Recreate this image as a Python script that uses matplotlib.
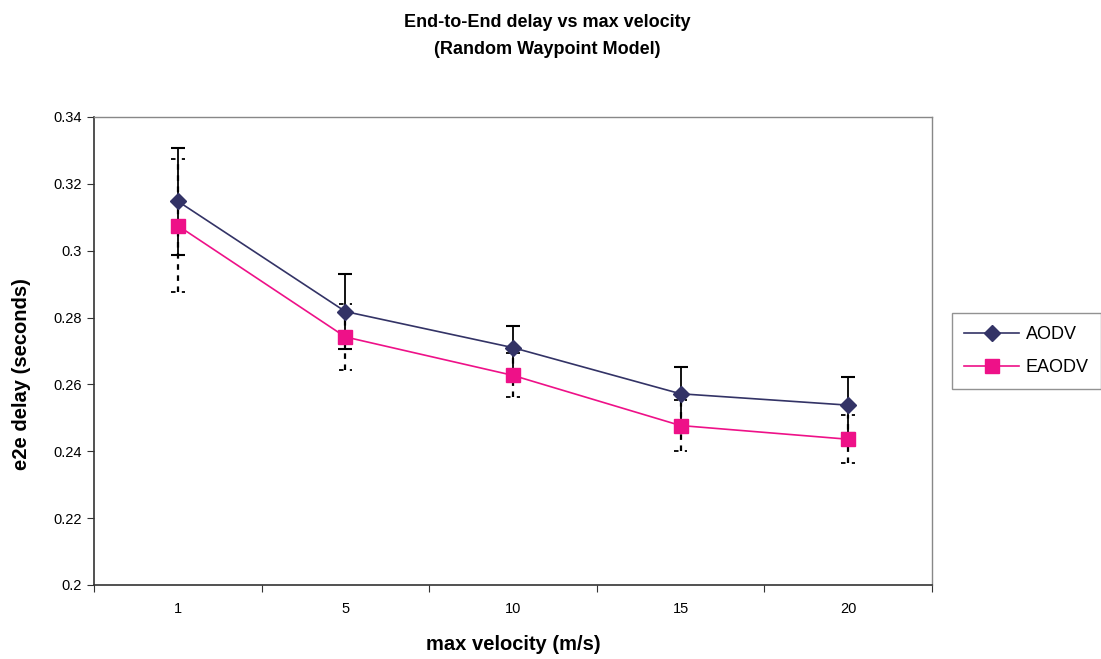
import matplotlib
matplotlib.use('Agg')
import matplotlib.pyplot as plt
import numpy as np

plt.rcParams['font.family'] = ['Liberation Sans', 'DejaVu Sans']

velocity = ['1', '5', '10', '15', '20']
aodv = [0.3148, 0.2818, 0.2710, 0.2572, 0.2538]
aodv_err = [0.0160, 0.0112, 0.0066, 0.0081, 0.0083]
eaodv = [0.3075, 0.2742, 0.2627, 0.2477, 0.2436]
eaodv_err = [0.0199, 0.0099, 0.0066, 0.0075, 0.0072]

x = np.arange(len(velocity))

fig = plt.figure(figsize=(11.01, 6.59), dpi=100)
ax = fig.add_axes([0.0854, 0.1123, 0.761, 0.7102])

# EAODV error bars: dashed, with dashed caps
eb = ax.errorbar(x, eaodv, yerr=eaodv_err, fmt='none', ecolor='black',
                 elinewidth=1.6, capsize=0, zorder=2)
eb[2][0].set_linestyle((0, (2.5, 2.5)))
lo = np.array(eaodv) - np.array(eaodv_err)
hi = np.array(eaodv) + np.array(eaodv_err)
ax.hlines(np.concatenate([lo, hi]), np.concatenate([x, x]) - 0.04,
          np.concatenate([x, x]) + 0.04, colors='black', linewidth=1.3,
          linestyles=(0, (2.5, 3.5)), zorder=2)

# AODV error bars: solid with caps
ax.errorbar(x, aodv, yerr=aodv_err, fmt='none', ecolor='black',
            elinewidth=1.3, capsize=5, capthick=1.5, zorder=3)

ax.plot(x, aodv, color='#333366', linewidth=1.2, marker='D', markersize=8,
        markerfacecolor='#333366', markeredgecolor='#333366', label='AODV', zorder=4)
ax.plot(x, eaodv, color='#EE1188', linewidth=1.2, marker='s', markersize=10,
        markerfacecolor='#EE1188', markeredgecolor='#EE1188', label='EAODV', zorder=4)

ax.set_xlim(-0.5, len(velocity) - 0.5)
ax.set_ylim(0.2, 0.34)
ax.set_yticks(np.arange(0.2, 0.3401, 0.02))
ax.set_yticklabels(['0.2', '0.22', '0.24', '0.26', '0.28', '0.3', '0.32', '0.34'])

# ticks between categories, labels at category centres
ax.set_xticks(np.arange(-0.5, len(velocity), 1.0))
ax.set_xticklabels([])
ax.set_xticks(x, minor=True)
ax.set_xticklabels(velocity, minor=True)
ax.tick_params(axis='x', which='minor', length=0, pad=12, labelsize=10.5)
ax.tick_params(axis='x', which='major', length=5, direction='out', color='#333333')
ax.tick_params(axis='y', length=5, direction='out', color='#333333', labelsize=10.5, pad=4)

for side in ['left', 'bottom']:
    ax.spines[side].set_color('#333333')
    ax.spines[side].set_linewidth(1.2)
for side in ['top', 'right']:
    ax.spines[side].set_color('#888888')
    ax.spines[side].set_linewidth(1.0)

ax.set_xlabel('max velocity (m/s)', fontsize=14.5, fontweight='bold', labelpad=14)
ax.set_ylabel('e2e delay (seconds)', fontsize=14.5, fontweight='bold')
ax.yaxis.set_label_coords(-0.075, 0.45)
fig.suptitle('End-to-End delay vs max velocity\n(Random Waypoint Model)',
             fontsize=13, fontweight='bold', x=0.497, y=0.978, linespacing=1.75)

leg = ax.legend(loc='center left', bbox_to_anchor=(1.013, 0.5), fontsize=13,
                frameon=True, fancybox=False, edgecolor='#777777',
                handlelength=3.0, borderpad=0.7, labelspacing=0.9, handletextpad=0.4)
leg.get_frame().set_linewidth(1.0)

fig.savefig('out.png', dpi=100)
